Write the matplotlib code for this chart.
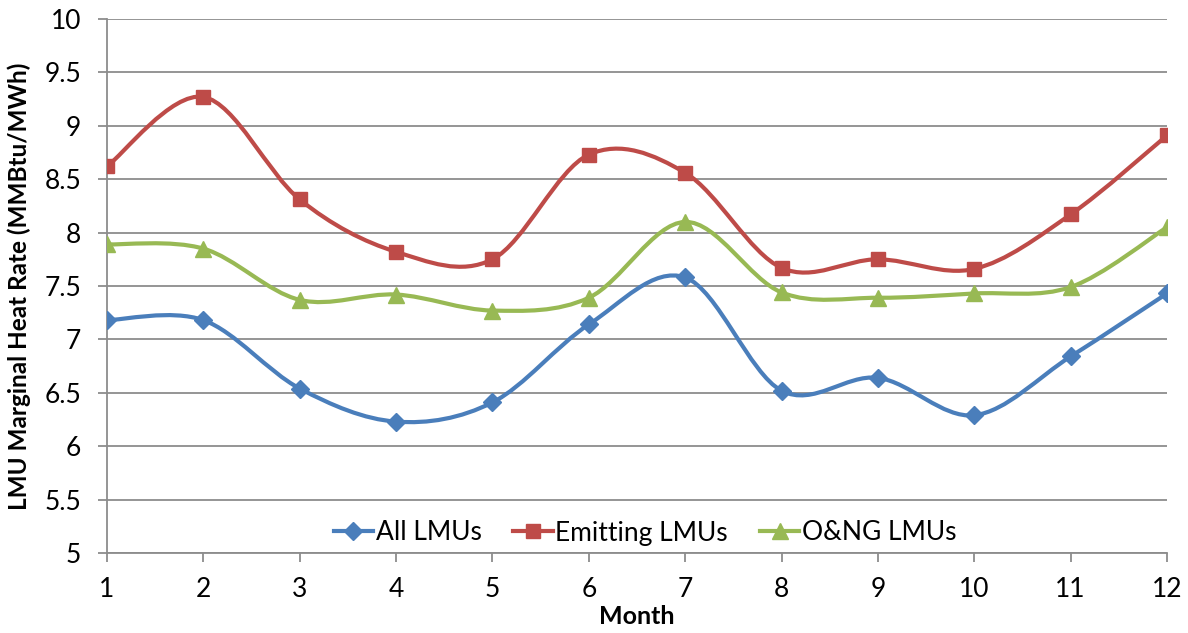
import numpy as np
import matplotlib
matplotlib.use("Agg")
import matplotlib.pyplot as plt
from matplotlib.path import Path
from matplotlib.patches import PathPatch

months = [1, 2, 3, 4, 5, 6, 7, 8, 9, 10, 11, 12]
all_lmus = [7.18, 7.18, 6.54, 6.23, 6.41, 7.14, 7.58, 6.52, 6.64, 6.29, 6.84, 7.43]
emitting_lmus = [8.62, 9.27, 8.31, 7.82, 7.75, 8.73, 8.56, 7.67, 7.75, 7.66, 8.17, 8.91]
ong_lmus = [7.89, 7.85, 7.37, 7.42, 7.27, 7.39, 8.10, 7.44, 7.39, 7.43, 7.49, 8.05]
series_names = ["All LMUs", "Emitting LMUs", "O&NG LMUs"]
yticks = [5, 5.5, 6, 6.5, 7, 7.5, 8, 8.5, 9, 9.5, 10]
ytick_labels = ["5", "5.5", "6", "6.5", "7", "7.5", "8", "8.5", "9", "9.5", "10"]

colors = ["#4A7EBB", "#BE4B48", "#98B954"]
markers = ["D", "s", "^"]
msizes = [9.5, 10.5, 11.5]

plt.rcParams['font.family'] = ['Lato', 'DejaVu Sans']

fig = plt.figure(figsize=(11.88, 6.33), dpi=100)
ax = fig.add_axes([107/1188, 1-553/633, (1167-107)/1188, (553-19)/633])


def smooth_path(x, y):
    x = np.asarray(x, float)
    y = np.asarray(y, float)
    n = len(x)
    verts = [(x[0], y[0])]
    codes = [Path.MOVETO]
    for i in range(n - 1):
        p0 = (x[max(i-1, 0)], y[max(i-1, 0)])
        p1 = (x[i], y[i])
        p2 = (x[i+1], y[i+1])
        p3 = (x[min(i+2, n-1)], y[min(i+2, n-1)])
        c1 = (p1[0] + (p2[0]-p0[0])/6, p1[1] + (p2[1]-p0[1])/6)
        c2 = (p2[0] - (p3[0]-p1[0])/6, p2[1] - (p3[1]-p1[1])/6)
        verts += [c1, c2, p2]
        codes += [Path.CURVE4]*3
    return Path(verts, codes)


handles = []
for data, c, m, ms, name in zip([all_lmus, emitting_lmus, ong_lmus], colors, markers, msizes, series_names):
    patch = PathPatch(smooth_path(months, data), facecolor='none', edgecolor=c, lw=3.0, zorder=3, capstyle='round')
    ax.add_patch(patch)
    ax.plot(months, data, linestyle='none', marker=m, color=c, markersize=ms, zorder=4)
    h, = ax.plot([], [], color=c, lw=3.0, marker=m, markersize=ms, label=name)
    handles.append(h)

ax.set_xlim(1, 12)
ax.set_ylim(5, 10)
ax.set_xticks(months)
ax.set_xticklabels([str(m) for m in months], fontsize=19)
ax.set_yticks(yticks)
ax.set_yticklabels(ytick_labels, fontsize=19)
ax.yaxis.grid(True, color='#8C8C8C', lw=1.3)
ax.set_axisbelow(True)
for s in ['top', 'right']:
    ax.spines[s].set_visible(False)
for s in ['left', 'bottom']:
    ax.spines[s].set_color('#8C8C8C')
    ax.spines[s].set_linewidth(1.3)
ax.tick_params(axis='both', direction='out', length=6.5, color='#8C8C8C', width=1.3)
ax.tick_params(axis='x', pad=11)
ax.tick_params(axis='y', pad=12)

ax.set_xlabel("Month", fontsize=18, fontweight='bold', va='center')
ax.xaxis.set_label_coords(0.5, (553-617)/534)
ax.set_ylabel("LMU Marginal Heat Rate (MMBtu/MWh)", fontsize=17.5, fontweight='bold', va='center')
ax.yaxis.set_label_coords((19-107)/1060, 0.5)

ax.legend(handles=handles, loc='center', bbox_to_anchor=((645-107)/1060, (553-533)/534), ncol=3, frameon=False,
          fontsize=19, handlelength=1.5, columnspacing=1.2, handletextpad=0.1, borderpad=0)

fig.savefig("out.png", dpi=100)
